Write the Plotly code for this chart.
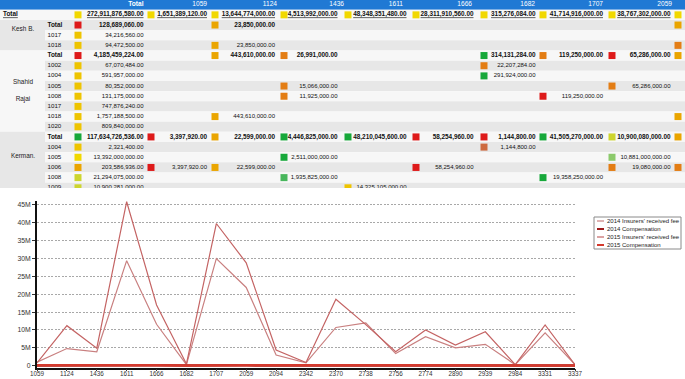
import plotly.graph_objects as go

W, H = 685, 379

# ---------------- line chart data (values in millions) ----------------
codes = ["1059", "1124", "1436", "1611", "1666", "1682", "1707", "2059", "2094", "2342",
         "2370", "2738", "2756", "2774", "2890", "2939", "2984", "3331", "3337"]
fee_2014_m = [1.0, 4.8, 3.9, 29.4, 11.6, 0.3, 30.0, 21.9, 3.0, 0.8,
              10.7, 12.0, 3.4, 8.1, 5.0, 6.0, 0.3, 9.2, 0.3]
fee_2015_m = [0.8, 11.2, 4.9, 45.9, 17.0, 0.5, 39.8, 28.8, 4.4, 0.9,
              18.6, 11.5, 3.9, 10.0, 5.8, 9.5, 0.3, 11.4, 0.3]
comp_2014_m = [0.05, 0.1, 0.05, 0.15, 0.1, 0.05, 0.15, 0.1, 0.05, 0.05,
               0.1, 0.1, 0.05, 0.05, 0.05, 0.05, 0.05, 0.1, 0.05]
comp_2015_m = [0.1, 0.15, 0.1, 0.2, 0.15, 0.05, 0.2, 0.15, 0.1, 0.05,
               0.15, 0.15, 0.1, 0.1, 0.1, 0.1, 0.05, 0.15, 0.05]
series_names = ["2014 Insurers' received fee", "2014 Compensation",
                "2015 Insurers' received fee", "2015 Compensation"]
y_ticks_m = [0, 5, 10, 15, 20, 25, 30, 35, 40, 45]

# ---------------- table data ----------------
table_cols = ["Total", "1059", "1124", "1436", "1611", "1666", "1682", "1707", "2059"]
row_labels = ["Total", "Total", "1017", "1018", "Total", "1002", "1004", "1005", "1008",
              "1017", "1018", "1020", "Total", "1004", "1005", "1006", "1008", "1009"]
group_names = ["Kesh B.", "Shahid Rajai", "Kerman."]
group_first_row = [1, 4, 12]
group_last_row = [3, 11, 17]
N = None
val_total = [272911876580.00, 128689060.00, 34216560.00, 94472500.00, 4185459224.00,
             67070484.00, 591957000.00, 80352000.00, 131175000.00, 747876240.00,
             1757188500.00, 809840000.00, 117634726536.00, 2321400.00, 13392000000.00,
             203586936.00, 21294075000.00, 10900281000.00]
val_1059 = [1651389120.00, N, N, N, N, N, N, N, N, N, N, N, 3397920.00, N, N, 3397920.00, N, N]
val_1124 = [13644774000.00, 23850000.00, N, 23850000.00, 443610000.00, N, N, N, N, N,
            443610000.00, N, 22599000.00, N, N, 22599000.00, N, N]
val_1436 = [4513992000.00, N, N, N, 26991000.00, N, N, 15066000.00, 11925000.00, N, N, N,
            4446825000.00, N, 2511000000.00, N, 1935825000.00, N]
val_1611 = [48348351480.00, N, N, N, N, N, N, N, N, N, N, N, 48210045600.00, N, N, N, N,
            14325105000.00]
val_1666 = [28311910560.00, N, N, N, N, N, N, N, N, N, N, N, 58254960.00, N, N, 58254960.00, N, N]
val_1682 = [315276084.00, N, N, N, 314131284.00, 22207284.00, 291924000.00, N, N, N, N, N,
            1144800.00, 1144800.00, N, N, N, N]
val_1707 = [41714916000.00, N, N, N, 119250000.00, N, N, N, 119250000.00, N, N, N,
            41505270000.00, N, N, N, 19358250000.00, N]
val_2059 = [38767302000.00, N, N, N, 65286000.00, N, N, 65286000.00, N, N, N, N,
            10900080000.00, N, 10881000000.00, 19080000.00, N, N]
flag_total = ["Y2", "R", "Y", "Y", "R", "Y", "Y", "Y", "Y", "Y", "Y", "Y", "G", "Y", "Y2", "A", "YG", "YG"]
flag_1059 = ["Y2", N, N, N, N, N, N, N, N, N, N, N, "R", N, N, "R", N, N]
flag_1124 = ["Y2", "A", N, "A", "A", N, N, N, N, N, "A", N, "A", N, N, "A", N, N]
flag_1436 = ["Y2", N, N, N, "O", N, N, "O", "O", N, N, N, "G", N, "G", N, "G2", N]
flag_1611 = ["Y2", N, N, N, N, N, N, N, N, N, N, N, "G", N, N, N, N, "Y"]
flag_1666 = ["Y2", N, N, N, N, N, N, N, N, N, N, N, "R", N, N, "R", N, N]
flag_1682 = ["Y2", N, N, N, "G", "O", "G", N, N, N, N, N, "R", "B", N, N, N, N]
flag_1707 = ["Y2", N, N, N, "O", N, N, N, "R", N, N, N, "G", N, N, N, "G", N]
flag_2059 = ["Y2", N, N, N, "R", N, N, "O", N, N, N, N, "YG", N, "LG", "O", N, N]
flag_next = ["Y2", "A", N, "O", "A", N, N, N, N, N, "A", N, "A", N, N, "O", N, N]

# ---------------- styles ----------------
FLAG_COLORS = {"Y": "#eec400", "Y2": "#f1d800", "A": "#eaa500", "O": "#e37d14", "R": "#de1a1a",
               "G": "#17a83a", "G2": "#48b65c", "LG": "#8cca6c", "YG": "#cdd52e", "B": "#cd6a40"}
SQ_X = [78, 151, 215, 284, 348, 416, 484, 543, 612, 678]
VAL_RIGHT = [143.5, 207, 275, 337.5, 406.5, 473.5, 535.5, 603, 670.5]
HDR_RIGHT = [143.5, 207, 277, 344, 403, 472, 535, 603, 672]
FONT = "Arial"
GREY, LIGHT, BLUE = "#e7e7e7", "#f7f7f7", "#2079d4"


def px(x):
    return x / W


def py(y):
    return 1 - y / H


val_cols = [val_total, val_1059, val_1124, val_1436, val_1611, val_1666, val_1682, val_1707, val_2059]
flag_cols = [flag_total, flag_1059, flag_1124, flag_1436, flag_1611, flag_1666, flag_1682,
             flag_1707, flag_2059, flag_next]
nrows = len(row_labels)
bold_rows = [i for i in range(1, nrows) if row_labels[i] == "Total"]

fig = go.Figure()

# ---- table: squares ----
sx, sy, sc = [], [], []
for c, flags in enumerate(flag_cols):
    for r, f in enumerate(flags):
        if f is not None:
            sx.append(SQ_X[c]); sy.append(r + 1); sc.append(FLAG_COLORS[f])
fig.add_trace(go.Scatter(x=sx, y=sy, mode="markers", xaxis="x2", yaxis="y2",
                         marker=dict(symbol="square", size=7, color=sc, line=dict(width=0)),
                         hoverinfo="skip", showlegend=False))


# ---- table: values ----
def add_text(xs, ys, texts, size, weight="normal", color="#111", pos="middle left", under=False):
    tf = dict(family=FONT, size=size, color=color, weight=weight)
    if under:
        tf["lineposition"] = "under"
    fig.add_trace(go.Scatter(x=xs, y=ys, text=texts, mode="text", textposition=pos,
                             xaxis="x2", yaxis="y2", textfont=tf, hoverinfo="skip",
                             showlegend=False))


groups = {"grand": ([], [], []), "bold": ([], [], []), "reg": ([], [], [])}
for c, vals in enumerate(val_cols):
    for r, v in enumerate(vals):
        if v is None:
            continue
        key = "grand" if r == 0 else ("bold" if r in bold_rows else "reg")
        groups[key][0].append(VAL_RIGHT[c]); groups[key][1].append(r + 1)
        groups[key][2].append(f"{v:,.2f}")
add_text(*groups["reg"], size=6)
add_text(*groups["bold"], size=6.4, weight="bold")
add_text(*groups["grand"], size=6.4, weight="bold", under=True)

# header
add_text([HDR_RIGHT[0]], [0], [table_cols[0]], 6.6, "bold", "white")
add_text(HDR_RIGHT[1:], [0] * (len(table_cols) - 1), table_cols[1:], 6.6, "normal", "white")

# row labels
add_text([3], [1], [row_labels[0]], 6.4, "bold", pos="middle right", under=True)
add_text([47.5] * len(bold_rows), [r + 1 for r in bold_rows], [row_labels[r] for r in bold_rows],
         6.4, "bold", pos="middle right")
reg_rows = [r for r in range(1, nrows) if r not in bold_rows]
add_text([47.5] * len(reg_rows), [r + 1 for r in reg_rows], [row_labels[r] for r in reg_rows],
         6.2, "normal", pos="middle right")

# group labels
gl_text = ["Kesh B.", "Shahid", "Rajai", "Kerman."]
gl_y = [2.42, 7.63, 9.3, 14.95]
add_text([23] * 4, gl_y, gl_text, 6.4, "normal", "#222", pos="middle center")

# ---- table backgrounds (shapes) ----
shapes = []
shapes.append(dict(type="rect", xref="x2", yref="y2", x0=0, x1=W, y0=-0.6, y1=0.5,
                   fillcolor=BLUE, line=dict(width=0), layer="below"))
shapes.append(dict(type="rect", xref="x2", yref="y2", x0=0, x1=W, y0=0.5, y1=1.5,
                   fillcolor=LIGHT, line=dict(width=0), layer="below"))
for r in range(2, nrows + 2):
    shapes.append(dict(type="rect", xref="x2", yref="y2", x0=45, x1=W, y0=r - 0.5, y1=r + 0.5,
                       fillcolor=GREY if r % 2 == 0 else LIGHT, line=dict(width=0), layer="below"))
for g in range(len(group_names)):
    last = group_last_row[g] + 1 if g < len(group_names) - 1 else nrows + 2
    shapes.append(dict(type="rect", xref="x2", yref="y2", x0=0, x1=45,
                       y0=group_first_row[g] + 0.5, y1=last + 0.5,
                       fillcolor=GREY if g % 2 == 0 else LIGHT, line=dict(width=0), layer="below"))

# ---- line chart ----
line_styles = [dict(color="#c98080", width=1.2), dict(color="#9e1b1b", width=2.5),
               dict(color="#c46464", width=1.2), dict(color="#d43a2e", width=2.5)]
for name, vals, st in zip(series_names, [fee_2014_m, comp_2014_m, fee_2015_m, comp_2015_m], line_styles):
    fig.add_trace(go.Scatter(x=codes, y=[v * 1e6 for v in vals], mode="lines", name=name,
                             line=st, showlegend=False, xaxis="x", yaxis="y"))

# ---- manual legend ----
leg_top = 218
shapes.append(dict(type="rect", xref="paper", yref="paper", x0=px(594), x1=px(681),
                   y0=py(217), y1=py(249), line=dict(color="#8a8a8a", width=1),
                   fillcolor="white"))
annotations = []
for i, (name, st) in enumerate(zip(series_names, line_styles)):
    yy = leg_top + 3 + i * 8
    shapes.append(dict(type="line", xref="paper", yref="paper", x0=px(597), x1=px(604),
                       y0=py(yy), y1=py(yy), line=dict(color=st["color"], width=min(st["width"], 2))))
    annotations.append(dict(xref="paper", yref="paper", x=px(604.5), y=py(yy), text=name,
                            showarrow=False, xanchor="left", yanchor="middle",
                            font=dict(family=FONT, size=6, color="#222")))

fig.update_layout(
    width=W, height=H, margin=dict(l=0, r=0, t=0, b=0),
    paper_bgcolor="white", plot_bgcolor="white", showlegend=False,
    shapes=shapes, annotations=annotations,
    xaxis=dict(domain=[px(37), px(575)], type="category", range=[0, len(codes) - 1],
               showline=True, linecolor="#111", linewidth=1.5, ticks="outside", ticklen=2,
               tickcolor="#333", showgrid=False, zeroline=False, automargin=False,
               ticklabelstandoff=-3,
               tickfont=dict(family=FONT, size=6.3, color="#333"), anchor="y"),
    yaxis=dict(domain=[py(367.5), py(201)], range=[-0.5e6, 46.1e6],
               tickvals=[v * 1e6 for v in y_ticks_m], tickformat="~s",
               showline=True, linecolor="#111", linewidth=2, ticks="outside", ticklen=3,
               tickcolor="#333", showgrid=True, gridcolor="#a8a8a8", gridwidth=0.7,
               griddash="2px,1.5px", zeroline=False, automargin=False,
               tickfont=dict(family=FONT, size=6.8, color="#333"), anchor="x"),
    xaxis2=dict(domain=[0, 1], range=[0, W], visible=False, anchor="y2", fixedrange=True),
    yaxis2=dict(domain=[py(188), 1], range=[18.02, -0.46], visible=False, anchor="x2",
                fixedrange=True),
)

fig.write_html("out.html", config={"displayModeBar": False},
               post_script="document.body.style.margin='0';document.body.style.overflow='hidden';")
